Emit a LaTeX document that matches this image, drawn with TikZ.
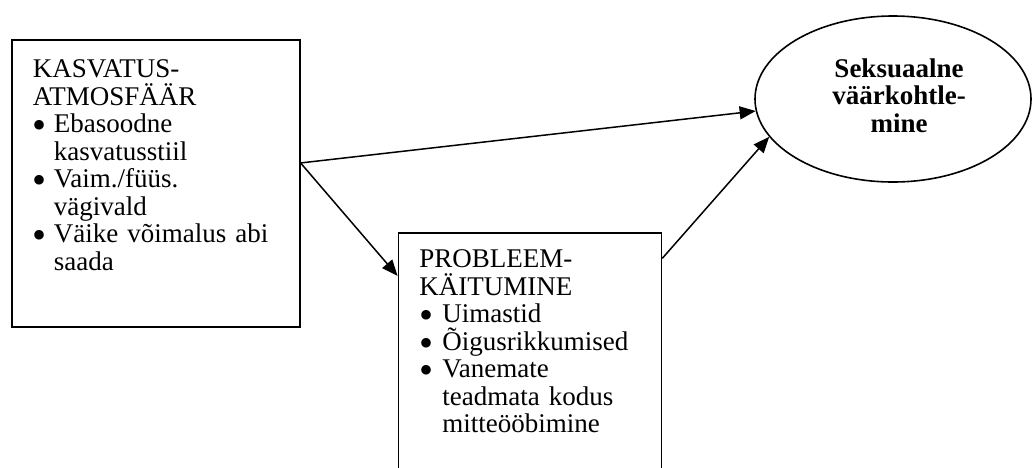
\documentclass[tikz,border=0pt]{standalone}
\usepackage{fontspec}
\setmainfont{Liberation Serif}
\usetikzlibrary{positioning,arrows.meta,shapes.geometric}
\newcommand{\pkt}{\raisebox{-3pt}{\fontsize{20pt}{0pt}\selectfont\textbullet}}

\begin{document}
\begin{tikzpicture}[x=0.5pt,y=-0.5pt,
    kast/.style={draw, line width=0.8pt, rectangle, inner ysep=0pt, inner xsep=10.5pt,
        font=\fontsize{13.5pt}{13.75pt}\selectfont},
    nool/.style={line width=0.75pt, -{Triangle[length=8pt,width=6.5pt]}}]
            \path[use as bounding box, fill=white] (0,0) rectangle (1032,467);
            \clip (0,0) rectangle (1032,467);
            \node[kast, anchor=north west, text width=123pt, text height=18.85pt, text depth=124.65pt] (b1) at (11,39) {%
                \begin{tabular}[t]{@{}p{10.5pt}@{}l@{}}
                \multicolumn{2}{@{}l@{}}{KASVATUS-}\\
                \multicolumn{2}{@{}l@{}}{\smash{ATMOSFÄÄR}}\\
                \pkt & Ebasoodne\\
                & kasvatusstiil\\
                \pkt & Vaim./füüs.\\
                & vägivald\\
                \pkt & Väike võimalus abi\\
                & saada
                \end{tabular}};
            \node[kast, below right=96.5pt and 48.5pt of b1.north east, text width=110.5pt, text height=17.5pt, text depth=111.5pt] (b2) {%
                \begin{tabular}[t]{@{}p{11.5pt}@{}l@{}}
                \multicolumn{2}{@{}l@{}}{PROBLEEM-}\\
                \multicolumn{2}{@{}l@{}}{\smash{KÄITUMINE}}\\
                \pkt & Uimastid\\
                \pkt & \smash{Õigusrikkumised}\\
                \pkt & Vanemate\\
                & teadmata kodus\\
                & mitteööbimine
                \end{tabular}};
            \node[draw, ellipse, line width=0.8pt, minimum width=138pt, minimum height=83pt, inner sep=0pt,
                font=\fontsize{13.5pt}{13.75pt}\selectfont\bfseries] (e1) at (893,99) {\hspace*{6pt}\begin{tabular}{@{}c@{}}Seksuaalne\\väärkohtle-\\mine\end{tabular}};
            \draw[nool] (b1.8.9) -- (e1.185);
            \draw[nool] (b1.8.9) -- (b2.147.1);
            \draw[nool] (b2.38.6) -- (e1.197);
\end{tikzpicture}
\end{document}
